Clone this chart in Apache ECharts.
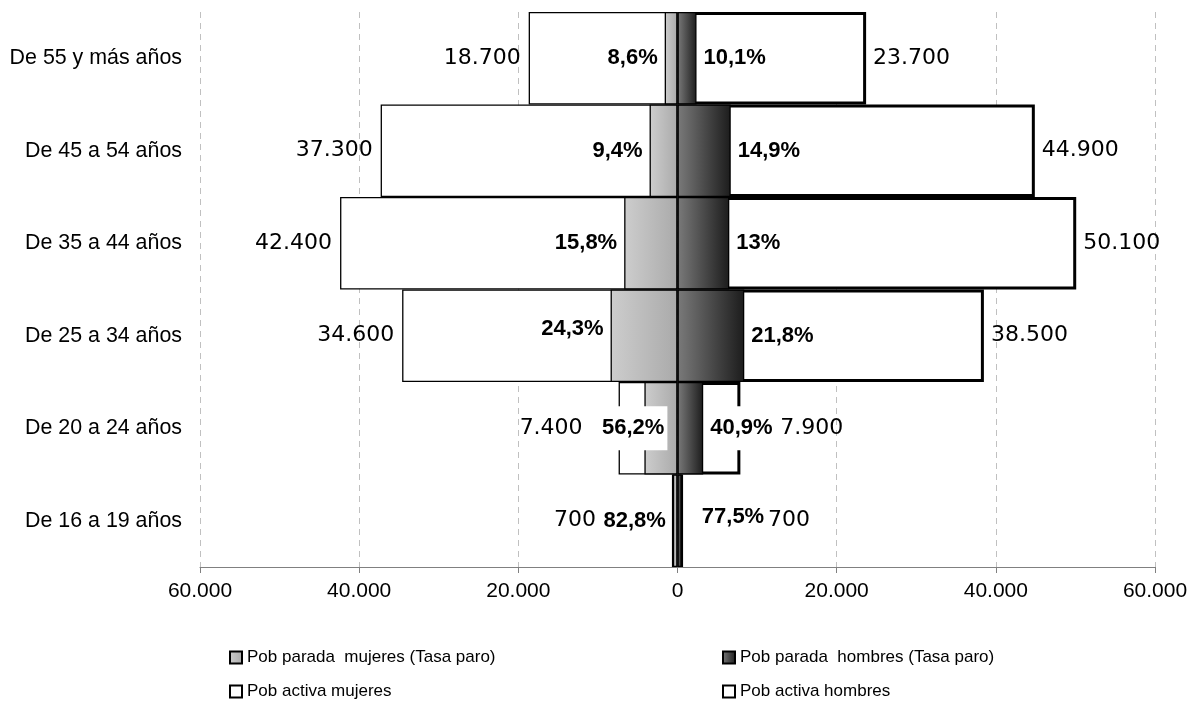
<!DOCTYPE html>
<html>
<head>
<meta charset="utf-8">
<script src="https://cdn.jsdelivr.net/npm/echarts@6/dist/echarts.min.js"></script>
<style>
html,body{margin:0;padding:0;background:#fff;}
#chart{width:1192px;height:715px;}
</style>
</head>
<body>
<div id="chart"></div>
<script>
// ---- data (bottom to top) ----
const categories = ['De 16 a 19 años','De 20 a 24 años','De 25 a 34 años','De 35 a 44 años','De 45 a 54 años','De 55 y más años'];
const activeWomen = [700, 7400, 34600, 42400, 37300, 18700];
const activeMen = [700, 7900, 38500, 50100, 44900, 23700];
const unemployedWomen = [580, 4160, 8410, 6700, 3510, 1610];
const unemployedMen = [540, 3230, 8390, 6510, 6690, 2390];
const rateWomen = ['82,8%','56,2%','24,3%','15,8%','9,4%','8,6%'];
const rateMen = ['77,5%','40,9%','21,8%','13%','14,9%','10,1%'];
const xTicks = [-60000,-40000,-20000,0,20000,40000,60000];

function fmt(v){ v=Math.abs(v); return String(v).replace(/\B(?=(\d{3})+(?!\d))/g,'.'); }

const chart = echarts.init(document.getElementById('chart'));

function withOffsets(values, offsets){
  return values.map((v,i)=> offsets[i] ? {value:v, label:{offset:offsets[i]}} : v);
}

const activeFont = {fontFamily:'"DejaVu Sans", Verdana, sans-serif', fontSize:22, color:'#000'};
const rateFont = {fontFamily:'"Liberation Sans", Arial, sans-serif', fontSize:22, fontWeight:'bold', color:'#000',
  backgroundColor:'#fff', padding:[11,3]};
const legendText = {fontFamily:'"Liberation Sans", Arial, sans-serif', fontSize:17, color:'#000'};

const option = {
  animation:false,
  backgroundColor:'#fff',
  grid:{left:200, right:37, top:12, bottom:148, containLabel:false},
  xAxis:{
    type:'value', min:xTicks[0], max:xTicks[xTicks.length-1], interval:20000,
    axisLine:{show:true, lineStyle:{color:'#808080', width:1}},
    axisTick:{show:true, length:6, lineStyle:{color:'#808080'}},
    axisLabel:{formatter:v=>fmt(v), fontFamily:'"Liberation Sans", Arial, sans-serif', fontSize:21, color:'#000', margin:14},
    splitLine:{show:true, lineStyle:{color:'#c0c0c0', type:[6,5], width:1}}
  },
  yAxis:{
    type:'category', data:categories,
    axisLine:{show:false}, axisTick:{show:false},
    axisLabel:{fontFamily:'"Liberation Sans", Arial, sans-serif', fontSize:21.4, color:'#000', margin:18}
  },
  legend:[
    {left:229, top:649, padding:0, orient:'vertical', itemWidth:12, itemHeight:12, itemGap:17, icon:'rect',
     textStyle:legendText,
     data:['Pob parada  mujeres (Tasa paro)','Pob activa mujeres']},
    {left:722, top:649, padding:0, orient:'vertical', itemWidth:12, itemHeight:12, itemGap:17, icon:'rect',
     textStyle:legendText,
     data:['Pob parada  hombres (Tasa paro)','Pob activa hombres']}
  ],
  series:[
    {
      name:'Pob activa mujeres', type:'bar', barCategoryGap:'0%', barGap:'-100%',
      data:withOffsets(activeWomen.map(v=>-v), {0:[-68,0], 1:[-28,0]}),
      itemStyle:{color:'#fff', borderColor:'#000', borderWidth:1.3},
      label:{show:true, position:'left', distance:8, formatter:p=>fmt(p.value), ...activeFont}
    },
    {
      name:'Pob activa hombres', type:'bar', barCategoryGap:'0%', barGap:'-100%',
      data:withOffsets(activeMen, {0:[78,0], 1:[33,0]}),
      itemStyle:{color:'#fff', borderColor:'#000', borderWidth:3},
      label:{show:true, position:'right', distance:7, formatter:p=>fmt(p.value), ...activeFont}
    },
    {
      name:'Pob parada  mujeres (Tasa paro)', type:'bar', barCategoryGap:'0%', barGap:'-100%',
      data:withOffsets(unemployedWomen.map(v=>-v), {1:[27,0], 2:[0,-7]}),
      itemStyle:{
        color:new echarts.graphic.LinearGradient(0,0,1,0,[{offset:0,color:'#cdcdcd'},{offset:1,color:'#aaaaaa'}]),
        borderColor:'#000', borderWidth:1.3
      },
      label:{show:true, position:'left', distance:4, formatter:p=>rateWomen[p.dataIndex], ...rateFont}
    },
    {
      name:'Pob parada  hombres (Tasa paro)', type:'bar', barCategoryGap:'0%', barGap:'-100%',
      data:withOffsets(unemployedMen, {0:[13,-4]}),
      itemStyle:{
        color:new echarts.graphic.LinearGradient(0,0,1,0,[{offset:0,color:'#7a7a7a'},{offset:1,color:'#1c1c1c'}]),
        borderColor:'#000', borderWidth:1.3
      },
      label:{show:true, position:'right', distance:4, formatter:p=>rateMen[p.dataIndex], ...rateFont}
    }
  ]
};
chart.setOption(option);
</script>
</body>
</html>
